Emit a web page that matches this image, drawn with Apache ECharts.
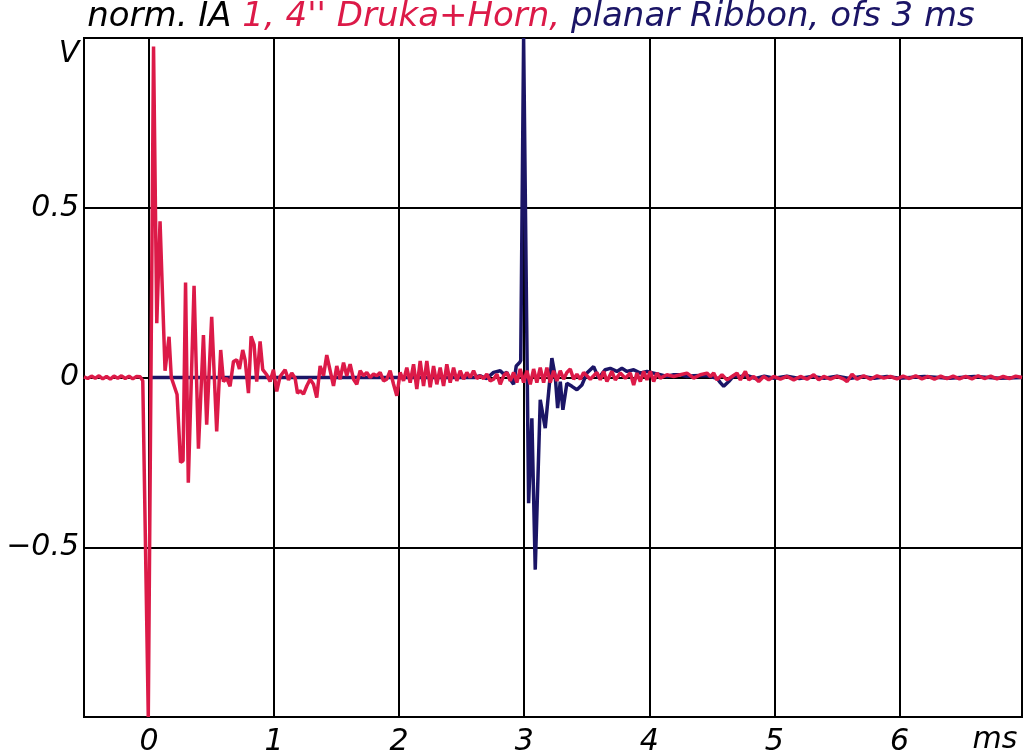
<!DOCTYPE html>
<html><head><meta charset="utf-8">
<script src="https://cdn.jsdelivr.net/npm/echarts@6/dist/echarts.min.js"></script>
<style>html,body{margin:0;padding:0;background:#fff}#c{width:1024px;height:752px}</style>
</head><body><div id="c"></div>
<script>
const titleBlack = 'norm. IA ';
const titleRed = "1, 4'' Druka+Horn,";
const titleBlue = ' planar Ribbon, ofs 3 ms';
const xUnit = 'ms';
const yUnit = 'V';
const xTicks = [0, 1, 2, 3, 4, 5, 6];
const yTickLabels = { '0.5': '0.5', '0': '0', '-0.5': '\u22120.5' };

const redTime = [-0.52,-0.49,-0.46,-0.43,-0.40,-0.37,-0.34,-0.31,-0.28,-0.25,-0.22,-0.19,-0.16,-0.13,-0.10,-0.07,-0.05,-0.006,
0.036,0.062,0.088,0.128,0.16,0.178,0.224,0.252,0.272,0.292,0.314,0.36,0.395,0.435,0.461,0.501,0.541,0.573,0.595,0.621,0.648,
0.675,0.701,0.723,0.749,0.768,0.795,0.816,0.840,0.861,0.888,0.909,0.941,0.968,0.995,1.021,1.048,1.088,1.115,1.141,1.168,1.187,
1.208,1.235,1.261,1.288,1.315,1.341,1.368,1.395,1.421,1.448,1.475,1.501,1.528,1.555,1.581,1.608,1.635,1.661,1.688,1.715,
1.741,1.768,1.795,1.821,1.848,1.875,1.901,1.928,1.955,1.981,2.008,2.035,2.061,2.088,2.115,2.141,2.168,2.195,2.221,2.248,
2.275,2.301,2.328,2.355,2.381,2.408,2.435,2.461,2.488,2.515,2.541,2.568,2.595,2.621,2.648,2.675,2.701,2.728,2.755,2.781,
2.808,2.835,2.861,2.888,2.915,2.941,2.968,2.995,3.021,3.048,3.075,3.101,3.128,3.155,3.181,3.208,3.235,3.261,3.288,3.315,
3.341,3.368,3.395,3.421,3.448,3.475,3.501,3.528,3.555,3.581,3.608,3.635,3.661,3.701,3.728,3.768,3.808,3.848,3.875,3.901,
3.928,3.955,3.981,4.008,4.035,4.061,4.088,4.141,4.195,4.248,4.301,4.355,4.408,4.461,4.488,4.515,4.541,4.581,4.621,4.661,
4.701,4.728,4.768,4.795,4.835,4.875,4.915,4.955,4.995,5.048,5.101,5.155,5.208,5.261,5.315,5.355,5.395,5.448,5.501,5.555,
5.581,5.621,5.661,5.715,5.768,5.821,5.875,5.928,5.98,6.03,6.08,6.13,6.18,6.23,6.28,6.33,6.38,6.43,6.48,6.53,6.58,6.63,
6.68,6.73,6.78,6.83,6.88,6.93,6.98];
const redVolt = [0.002,-0.003,0.004,-0.002,0.005,-0.004,0.003,-0.005,0.004,-0.002,0.005,-0.003,0.004,-0.004,0.003,0.002,-0.01,-1.0,
0.975,0.16,0.46,0.02,0.12,0.0,-0.05,-0.25,-0.245,0.28,-0.31,0.27,-0.21,0.125,-0.139,0.179,-0.159,0.081,-0.012,-0.002,-0.026,
0.047,0.052,0.025,0.081,0.052,-0.046,0.121,0.096,-0.012,0.106,0.023,0.008,-0.012,0.023,-0.041,0.003,0.023,-0.007,0.013,-0.002,-0.046,
-0.039,-0.049,-0.025,-0.005,-0.020,-0.059,0.034,0.005,0.066,0.020,-0.025,0.034,-0.005,0.044,0.005,0.039,-0.005,-0.020,0.020,0.005,
0.015,0.0,0.010,0.005,0.015,-0.010,-0.005,0.020,-0.020,-0.054,0.015,-0.010,0.029,-0.015,0.039,-0.034,0.049,-0.025,0.049,-0.029,
0.034,-0.020,0.029,-0.025,0.039,-0.015,0.029,-0.010,0.020,-0.005,0.015,0.0,0.020,-0.003,0.005,-0.003,0.010,-0.010,-0.005,0.010,
-0.020,0.005,0.015,-0.010,0.015,-0.015,0.025,-0.015,0.020,-0.020,0.025,-0.015,0.029,-0.015,0.029,-0.015,0.020,-0.010,0.020,-0.005,
0.015,0.025,-0.005,0.010,-0.005,0.015,0.005,-0.005,0.005,0.015,-0.007,0.018,-0.012,0.018,-0.007,0.013,-0.002,0.013,-0.022,0.013,
-0.012,0.018,-0.007,0.018,-0.012,0.013,-0.002,0.008,0.003,0.008,0.013,-0.002,0.008,0.013,0.003,0.013,-0.007,0.008,-0.007,0.003,
0.013,-0.007,0.018,-0.007,0.003,-0.012,0.003,-0.007,0.003,-0.005,0.003,-0.007,0.003,-0.005,0.008,-0.007,0.003,-0.005,0.003,-0.005,
-0.012,0.010,-0.005,0.005,-0.005,0.005,-0.002,0.003,-0.004,0.004,-0.003,0.005,-0.004,0.003,-0.005,0.004,-0.003,0.004,-0.004,0.003,-0.004,0.005,
-0.003,0.004,-0.004,0.003,-0.003,0.004,0.0];

const blueTime = [0,2.6,2.648,2.7,2.755,2.808,2.835,2.861,2.888,2.915,2.936,2.963,2.972,2.995,3.035,3.061,3.088,3.128,3.168,3.221,
3.248,3.267,3.288,3.309,3.341,3.381,3.421,3.461,3.501,3.555,3.595,3.648,3.688,3.741,3.781,3.821,3.875,3.928,3.981,4.035,
4.088,4.141,4.195,4.248,4.301,4.355,4.408,4.461,4.541,4.568,4.595,4.635,4.675,4.72,4.78,4.85,4.92,5.0,5.1,5.2,5.3,5.4,5.5,
5.6,5.7,5.8,5.9,6.0,6.2,6.4,6.6,6.8,6.98];
const blueVolt = [0,0,0.005,-0.003,0.015,0.02,0.01,0.015,-0.005,-0.02,0.034,0.044,0.05,1.0,-0.37,-0.12,-0.566,-0.066,-0.149,0.057,
0.003,-0.09,-0.012,-0.095,-0.017,-0.026,-0.036,-0.022,0.013,0.032,-0.002,0.023,0.027,0.018,0.027,0.018,0.023,0.013,0.018,0.013,
0.008,0.003,0.008,0.008,0.003,0.005,0.006,0.005,-0.002,-0.015,-0.026,-0.012,0.005,0.002,0.006,-0.003,0.004,-0.002,0.004,-0.003,0.003,-0.002,0.004,
-0.003,0.003,-0.002,0.003,-0.002,0.003,-0.002,0.003,-0.002,0.0];

const RED = '#dc1a48';
const NAVY = '#1b1566';
const FONT = 'DejaVu Sans';

const chart = echarts.init(document.getElementById('c'), null, { renderer: 'canvas' });
chart.setOption({
  animation: false,
  backgroundColor: '#fff',
  grid: { left: 84, right: 2, top: 38, bottom: 35, outerBoundsMode: 'none', containLabel: false,
    show: true, borderColor: '#000', borderWidth: 2, backgroundColor: 'transparent' },
  xAxis: {
    type: 'value', min: -0.52, max: 6.98,
    axisLine: { show: false },
    axisTick: { show: false, customValues: xTicks },
    axisLabel: { customValues: xTicks, color: '#000', fontFamily: FONT, fontStyle: 'italic', fontSize: 30, margin: 10, formatter: v => String(v) },
    splitLine: { show: true, lineStyle: { color: '#000', width: 2 } }
  },
  yAxis: {
    type: 'value', min: -1, max: 1, interval: 0.5,
    axisLine: { show: false },
    axisTick: { show: false },
    axisLabel: { color: '#000', fontFamily: FONT, fontStyle: 'italic', fontSize: 30, margin: 5,
      formatter: v => { const k = String(Math.round(v * 10) / 10); return yTickLabels[k] || ''; } },
    splitLine: { show: true, lineStyle: { color: '#000', width: 2 } }
  },
  graphic: [
    { type: 'text', x: 531, y: 17, style: {
        text: '{a|' + titleBlack + '}{b|' + titleRed + '}{c|' + titleBlue + '}',
        align: 'center', verticalAlign: 'middle',
        rich: {
          a: { fill: '#000', fontFamily: FONT, fontStyle: 'italic', fontSize: 34 },
          b: { fill: RED, fontFamily: FONT, fontStyle: 'italic', fontSize: 34 },
          c: { fill: NAVY, fontFamily: FONT, fontStyle: 'italic', fontSize: 34 }
        } } },
    { type: 'text', x: 69, y: 54, style: { text: yUnit, fill: '#000', fontFamily: FONT, fontStyle: 'italic', fontSize: 30, align: 'center', verticalAlign: 'middle' } },
    { type: 'text', x: 995, y: 740, style: { text: xUnit, fill: '#000', fontFamily: FONT, fontStyle: 'italic', fontSize: 30, align: 'center', verticalAlign: 'middle' } }
  ],
  series: [
    { type: 'line', name: 'planar Ribbon', data: blueTime.map((t, i) => [t, blueVolt[i]]), showSymbol: false,
      lineStyle: { color: NAVY, width: 3.5 }, itemStyle: { color: NAVY }, z: 3 },
    { type: 'line', name: 'Druka+Horn', data: redTime.map((t, i) => [t, redVolt[i]]), showSymbol: false,
      lineStyle: { color: RED, width: 3.5 }, itemStyle: { color: RED }, z: 4 }
  ]
});
</script>
</body></html>
